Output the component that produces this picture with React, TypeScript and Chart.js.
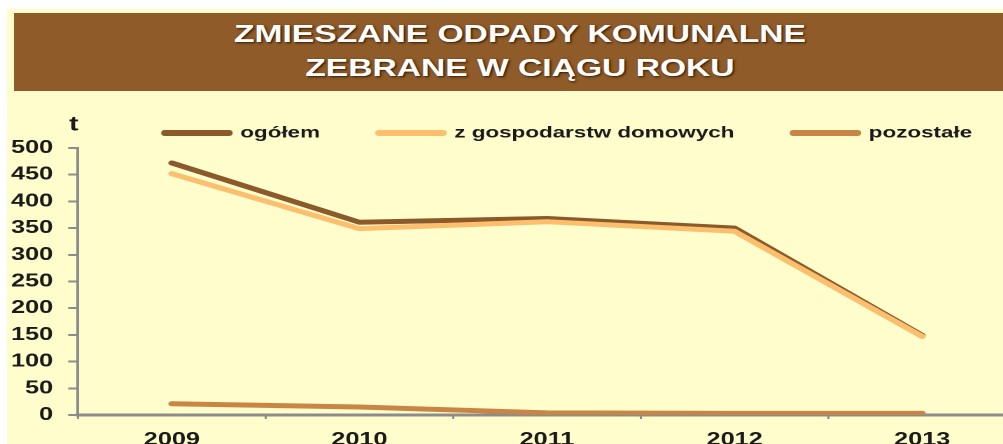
import React, { useEffect, useRef } from "react";
import { Chart, registerables } from "chart.js";

Chart.register(...registerables);

// ---- data ----
const years = ["2009", "2010", "2011", "2012", "2013"];
const ogolem = [472, 361, 368, 350, 149];
const gospodarstwa = [452, 349, 362, 344, 147];
const pozostale = [21, 15, 4, 3, 3];
const seriesNames = ["ogółem", "z gospodarstw domowych", "pozostałe"];
const yMin = 0;
const yMax = 500;
const yStep = 50;
const titleLines = ["ZMIESZANE ODPADY KOMUNALNE", "ZEBRANE W CIĄGU ROKU"];
const unitLabel = "t";

// ---- style ----
const S = 1.4; // horizontal stretch of the whole picture
const FONT = '"Liberation Sans", Arial, sans-serif';
const CREAM = "#FFFDCB";
const BROWN = "#8E5B29";
const TEXT = "#1a1a1a";
const AXIS = "#8c8c8c";
const C_OGOLEM = "#8B5A2B";
const C_GOSP = "#FBBF6E";
const C_POZ = "#C98545";

export default function App() {
  const ref = useRef<HTMLCanvasElement>(null);

  useEffect(() => {
    const canvas = ref.current;
    if (!canvas) return;

    const unitPlugin = {
      id: "unitAndLegendShift",
      afterLayout(chart: any) {
        if (chart.legend) {
          chart.legend.top += 3;
          chart.legend.bottom += 3;
        }
      },
      afterDraw(chart: any) {
        const { ctx, chartArea } = chart;
        ctx.save();
        ctx.font = `bold 20px ${FONT}`;
        ctx.fillStyle = TEXT;
        ctx.textAlign = "center";
        ctx.textBaseline = "alphabetic";
        ctx.fillText(unitLabel, chartArea.left - 3, chartArea.top - 17.5);
        ctx.restore();
      },
    };

    const lineDs = (label: string, data: number[], color: string, order: number) => ({
      label,
      data,
      borderColor: color,
      backgroundColor: color,
      borderWidth: 5,
      borderCapStyle: "round" as const,
      borderJoinStyle: "round" as const,
      pointRadius: 0,
      pointHoverRadius: 0,
      tension: 0,
      fill: false,
      order,
    });

    const chart = new Chart(canvas, {
      type: "line",
      data: {
        labels: years,
        datasets: [
          lineDs(seriesNames[0], ogolem, C_OGOLEM, 2),
          lineDs(seriesNames[1], gospodarstwa, C_GOSP, 1),
          lineDs(seriesNames[2], pozostale, C_POZ, 0),
        ],
      },
      options: {
        animation: false,
        responsive: false,
        devicePixelRatio: 2,
        layout: { padding: 0 },
        plugins: {
          legend: {
            position: "top",
            align: "center",
            labels: {
              boxWidth: 46,
              boxHeight: 1,
              padding: 42,
              color: TEXT,
              font: { family: FONT, size: 16, weight: "bold" },
              sort: (a: any, b: any) => a.datasetIndex - b.datasetIndex,
            },
          },
          tooltip: { enabled: false },
          title: { display: false },
        },
        scales: {
          x: {
            offset: true,
            grid: {
              offset: true,
              drawOnChartArea: false,
              drawTicks: true,
              tickLength: 4,
              color: AXIS,
              lineWidth: 1.5,
            },
            border: { color: AXIS, width: 3 },
            ticks: {
              color: TEXT,
              font: { family: FONT, size: 18, weight: "bold" },
              padding: 10,
              maxRotation: 0,
              autoSkip: false,
            },
            afterFit: (s: any) => {
              s.height = 45;
            },
          },
          y: {
            min: yMin,
            max: yMax,
            ticks: {
              stepSize: yStep,
              padding: 10.8,
              color: TEXT,
              font: { family: FONT, size: 18, weight: "bold" },
            },
            grid: {
              drawOnChartArea: false,
              drawTicks: true,
              tickLength: 7,
              color: AXIS,
              lineWidth: 2,
            },
            border: { color: AXIS, width: 2 },
            afterFit: (s: any) => {
              s.width = 55.7;
            },
          },
          y2: {
            position: "right",
            min: yMin,
            max: yMax,
            grid: { display: false },
            border: { display: false },
            ticks: { display: false },
            afterFit: (s: any) => {
              s.width = 86.3;
            },
          },
        },
      },
      plugins: [unitPlugin],
    } as any);

    return () => chart.destroy();
  }, []);

  return (
    <div
      style={{
        position: "fixed",
        left: 0,
        top: 0,
        width: 1003,
        height: 444,
        overflow: "hidden",
        background: "#fff",
      }}
    >
      <div
        style={{
          position: "absolute",
          left: 0,
          top: 0,
          width: 1003 / S,
          height: 444,
          transform: `scaleX(${S})`,
          transformOrigin: "0 0",
        }}
      >
        <div
          style={{
            position: "absolute",
            left: 5.2,
            top: 9.3,
            right: -40,
            bottom: -20,
            background: CREAM,
          }}
        />
        <div
          style={{
            position: "absolute",
            left: 10.3,
            top: 12.7,
            right: -40,
            height: 78,
            background: BROWN,
          }}
        />
        <div
          style={{
            position: "absolute",
            left: 0,
            top: 16.6,
            width: 742.8,
            textAlign: "center",
            color: "#fff",
            font: `bold 24px/34px ${FONT}`,
            textShadow: "1px 1px 2px rgba(40,20,0,0.9)",
            whiteSpace: "nowrap",
          }}
        >
          {titleLines.map((l) => (
            <div key={l}>{l}</div>
          ))}
        </div>
        <canvas
          ref={ref}
          width={812}
          height={380}
          style={{ position: "absolute", left: 0, top: 80, width: 812, height: 380 }}
        />
      </div>
    </div>
  );
}
